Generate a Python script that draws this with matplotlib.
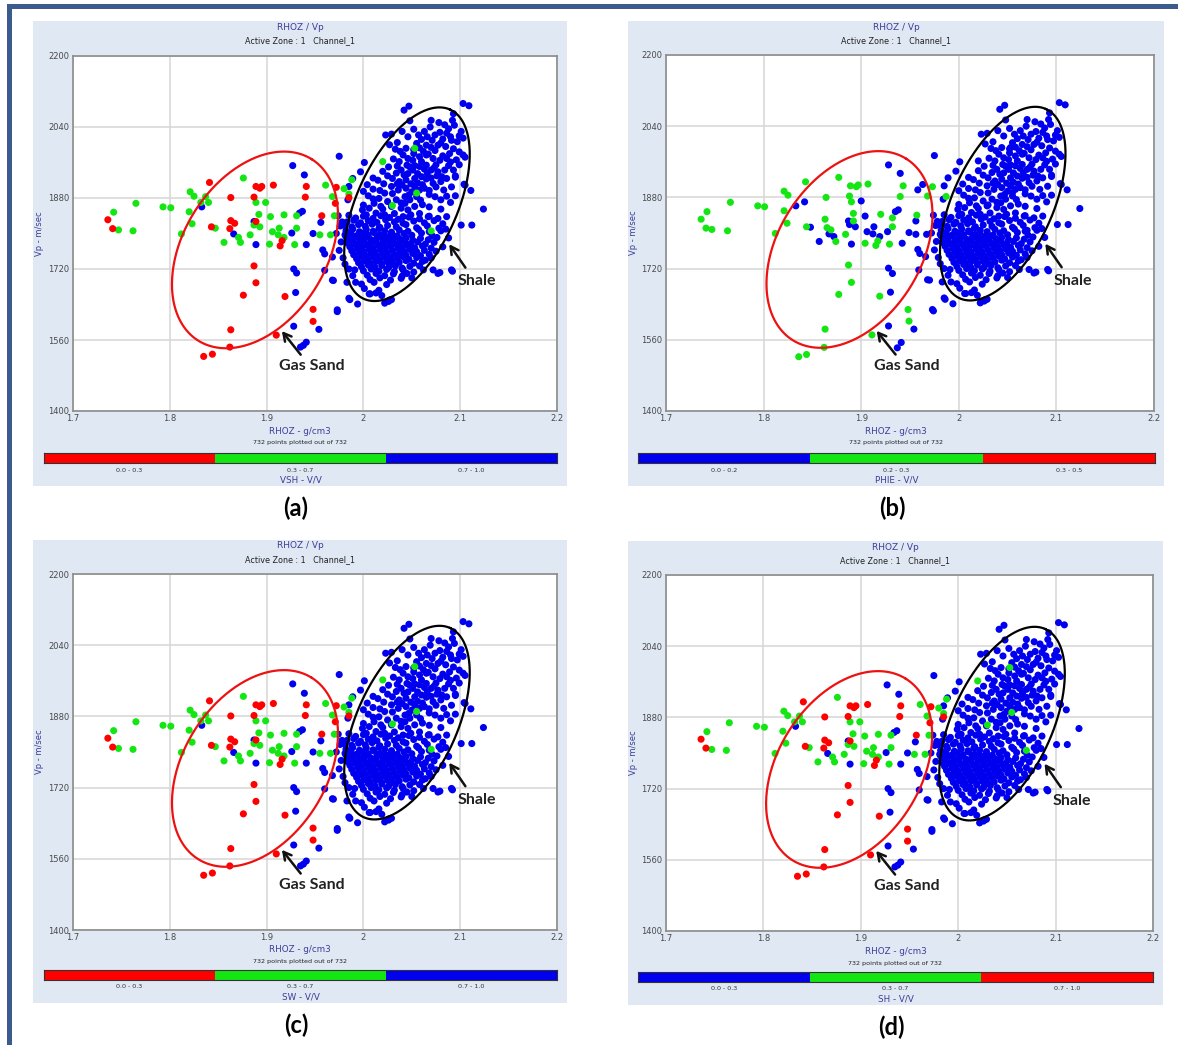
import numpy as np
import matplotlib
matplotlib.use("Agg")
import matplotlib.pyplot as plt
from matplotlib.patches import Rectangle

W, H = 1178, 1045

# ---- values: (RHOZ g/cm3, Vp m/sec) ----

# shale cluster + scattered points, blue in all four cross-plots
shale_pts = [
    # outliers around the cluster
    (1.975, 1974), (1.976, 1817), (1.986, 1651), (1.994, 1641), (1.991, 1718), (1.983, 1690),
    (2.001, 1960), (1.997, 1939), (2.042, 2078), (2.047, 2087), (2.048, 2054), (2.103, 2093),
    (2.109, 2088), (2.093, 2070), (2.124, 1855), (2.111, 1897), (2.101, 1819), (2.092, 1715),
    (2.079, 1712), (2.104, 1911), (2.095, 1927), (2.026, 1647), (2.029, 1651), (2.022, 1643),
    (2.007, 1664), (2.013, 1666), (1.968, 1695), (1.973, 1628), (1.985, 1654), (2.027, 1650),
    (2.077, 1710), (2.091, 1718), (2.072, 1718), (2.112, 1819), (2.105, 1909), (2.103, 1977),
    (1.989, 1924), (1.985, 1906), (1.984, 1876), (1.980, 1819), (1.982, 1793),
    # upper lobe
    (2.023, 2022), (2.029, 2024), (2.046, 2018), (2.084, 2045), (2.088, 2036), (2.094, 2044),
    (2.086, 2026), (2.079, 2028), (2.074, 2022), (2.082, 2013), (2.090, 2018), (2.097, 2007),
    (2.091, 2010), (2.055, 2003), (2.058, 1993), (2.052, 1989), (2.065, 1999), (2.070, 1994),
    (2.074, 1987), (2.077, 1999), (2.080, 2004), (2.085, 1996), (2.093, 1991), (2.099, 1984),
    (2.105, 1972), (2.062, 1985), (2.067, 1979), (2.041, 1977), (2.046, 1969), (2.051, 1965),
    (2.058, 1973), (2.065, 1977), (2.072, 1969), (2.079, 1965), (2.086, 1969), (2.090, 1961),
    (2.096, 1966), (2.082, 1975), (2.037, 1962), (2.045, 1954), (2.039, 1943), (2.034, 1936),
    (2.042, 1932), (2.051, 1943), (2.058, 1951), (2.065, 1954), (2.070, 1943), (2.077, 1939),
    (2.084, 1943), (2.093, 1943), (2.056, 1935), (2.048, 1950), (2.030, 1924), (2.037, 1917),
    (2.044, 1921), (2.053, 1924), (2.060, 1928), (2.065, 1923), (2.072, 1913), (2.080, 1917),
    (2.086, 1924), (2.049, 1912), (2.040, 1909), (2.029, 1906), (2.036, 1898), (2.044, 1902),
    (2.053, 1906), (2.058, 1898), (2.063, 1902), (2.068, 1897), (2.074, 1883), (2.080, 1876),
    (2.086, 1884), (2.050, 1894), (2.022, 1891), (2.016, 1879), (2.025, 1872), (2.034, 1876),
    (2.043, 1883), (2.048, 1876), (2.055, 1883), (2.059, 1875), (2.061, 1865), (2.039, 1869),
    (2.011, 1868), (2.006, 1857), (2.018, 1861), (2.029, 1861), (2.039, 1857), (2.046, 1853),
    (2.053, 1861), (2.000, 1864), (1.999, 1853), (2.003, 1842), (2.013, 1846), (2.022, 1842),
    (2.032, 1845), (2.041, 1838), (2.049, 1842), (2.058, 1845), (2.067, 1838),
    (2.027, 2000), (2.033, 1990), (2.038, 1985), (2.031, 1968), (2.026, 1950), (2.020, 1940),
    (2.015, 1920), (2.021, 1912), (2.010, 1900), (2.017, 1897), (2.005, 1885), (2.010, 1878),
    (2.063, 2030), (2.069, 2040), (2.060, 2012), (2.071, 2010), (2.101, 2030), (2.103, 2015),
    (2.099, 1955), (2.095, 1930), (2.091, 1905), (2.083, 1898), (2.076, 1930), (2.066, 1935),
    (2.061, 1910), (2.046, 1935), (2.035, 1952), (2.052, 1980), (2.044, 1992), (2.060, 1962),
    (2.075, 1955), (2.088, 1953), (2.070, 1925), (2.090, 1870), (2.095, 1885), (2.010, 1925),
    (2.004, 1910), (2.000, 1895),
    (2.035, 2005), (2.040, 2030), (2.052, 2035), (2.057, 2022), (2.066, 2018), (2.078, 2050),
    (2.070, 2055), (2.092, 2055), (2.099, 2020), (2.089, 1980), (2.073, 1948), (2.081, 1928),
    (2.056, 1914), (2.047, 1887), (2.068, 1888), (2.075, 1905), (2.025, 1930), (2.030, 1890),
    (2.043, 1868), (2.068, 1860), (2.080, 1855), (2.020, 1855), (2.035, 1912), (2.063, 1945),
    (2.053, 1953),
    # lower lobe (dense)
    (1.985, 1841), (1.992, 1835), (2.000, 1839), (2.010, 1834), (2.018, 1840), (2.027, 1836),
    (2.036, 1832), (2.047, 1837), (2.058, 1833), (2.068, 1839), (2.077, 1834), (2.086, 1838),
    (1.983, 1826), (1.990, 1830), (1.997, 1824), (2.005, 1829), (2.014, 1825), (2.023, 1831),
    (2.032, 1826), (2.041, 1823), (2.052, 1828), (2.063, 1824), (2.073, 1829), (2.082, 1822),
    (1.980, 1819), (1.988, 1815), (1.995, 1820), (2.002, 1816), (2.009, 1821), (2.017, 1814),
    (2.025, 1818), (2.034, 1815), (2.044, 1820), (2.055, 1813), (2.066, 1817), (2.078, 1812),
    (1.982, 1806), (1.989, 1810), (1.996, 1804), (2.003, 1809), (2.010, 1805), (2.016, 1811),
    (2.022, 1806), (2.029, 1803), (2.037, 1808), (2.046, 1805), (2.057, 1809), (2.068, 1804),
    (2.080, 1806), (1.981, 1797), (1.987, 1801), (1.993, 1795), (1.999, 1800), (2.005, 1796),
    (2.011, 1802), (2.017, 1797), (2.023, 1794), (2.029, 1799), (2.035, 1795), (2.042, 1800),
    (2.050, 1796), (2.060, 1801), (2.071, 1795), (1.984, 1788), (1.990, 1792), (1.996, 1787),
    (2.002, 1791), (2.008, 1786), (2.014, 1790), (2.020, 1785), (2.026, 1789), (2.032, 1792),
    (2.038, 1787), (2.044, 1790), (2.051, 1785), (2.059, 1789), (2.067, 1786), (2.076, 1791),
    (1.983, 1779), (1.989, 1783), (1.995, 1778), (2.001, 1782), (2.007, 1777), (2.013, 1781),
    (2.019, 1776), (2.025, 1780), (2.031, 1784), (2.037, 1778), (2.043, 1782), (2.049, 1777),
    (2.056, 1781), (2.064, 1776), (2.073, 1780), (1.986, 1770), (1.992, 1774), (1.998, 1769),
    (2.004, 1773), (2.010, 1768), (2.016, 1772), (2.022, 1767), (2.028, 1771), (2.034, 1775),
    (2.040, 1769), (2.046, 1773), (2.053, 1768), (2.061, 1772), (2.070, 1767), (1.988, 1761),
    (1.994, 1765), (2.000, 1760), (2.006, 1764), (2.012, 1759), (2.018, 1763), (2.024, 1758),
    (2.030, 1762), (2.036, 1766), (2.042, 1760), (2.048, 1764), (2.055, 1759), (2.063, 1762),
    (1.990, 1752), (1.996, 1756), (2.002, 1751), (2.008, 1755), (2.014, 1750), (2.020, 1754),
    (2.026, 1749), (2.032, 1753), (2.038, 1757), (2.044, 1751), (2.051, 1755), (2.059, 1750),
    (2.068, 1753), (1.993, 1743), (1.999, 1747), (2.005, 1742), (2.011, 1746), (2.017, 1741),
    (2.023, 1745), (2.029, 1740), (2.035, 1744), (2.041, 1748), (2.047, 1742), (2.055, 1746),
    (1.995, 1734), (2.001, 1738), (2.007, 1733), (2.013, 1737), (2.019, 1732), (2.025, 1736),
    (2.031, 1731), (2.037, 1735), (2.044, 1739), (2.052, 1733), (2.061, 1737), (1.998, 1725),
    (2.005, 1729), (2.012, 1724), (2.019, 1728), (2.026, 1723), (2.033, 1727), (2.040, 1722),
    (2.048, 1726), (2.000, 1716), (2.008, 1720), (2.016, 1715), (2.024, 1719), (2.032, 1714),
    (2.041, 1718), (2.052, 1713), (2.004, 1706), (2.013, 1710), (2.022, 1705), (2.031, 1709),
    (2.040, 1704), (2.007, 1696), (2.017, 1700), (2.028, 1695), (2.039, 1699), (1.998, 1686),
    (2.011, 1690), (2.024, 1685), (2.001, 1676), (2.016, 1672), (2.006, 1664), (2.019, 1660),
    (1.974, 1840), (1.978, 1826), (1.972, 1800), (1.977, 1781), (1.975, 1762), (1.979, 1745),
    (1.981, 1731), (1.985, 1720), (1.989, 1705), (1.992, 1690), (2.075, 1760), (2.082, 1770),
    (2.088, 1790), (2.085, 1810), (2.070, 1745), (2.064, 1740), (2.058, 1727), (2.062, 1718),
    (2.045, 1710), (2.050, 1700),
]

# sand side, coloured by VSH classes (same colouring in the SW and SH plots)
vsh_blue = [
    (1.833, 1860), (1.866, 1799), (1.887, 1827), (1.889, 1775), (1.927, 1953), (1.939, 1932),
    (1.934, 1846), (1.937, 1850), (1.926, 1801), (1.941, 1775), (1.956, 1825), (1.948, 1800),
    (1.958, 1763), (1.960, 1754), (1.968, 1747), (1.960, 1717), (1.928, 1720), (1.931, 1711),
    (1.930, 1667), (1.969, 1694), (1.928, 1591), (1.954, 1584), (1.941, 1555), (1.935, 1544),
    (1.938, 1548), (1.973, 1624),
]
vsh_green = [
    (1.742, 1848), (1.747, 1808), (1.762, 1806), (1.765, 1868), (1.793, 1860), (1.801, 1858),
    (1.812, 1799), (1.821, 1894), (1.825, 1884), (1.820, 1849), (1.823, 1822), (1.832, 1870),
    (1.837, 1883), (1.840, 1870), (1.847, 1812), (1.856, 1780), (1.871, 1791), (1.873, 1780),
    (1.876, 1925), (1.883, 1797), (1.889, 1870), (1.892, 1843), (1.893, 1815), (1.887, 1819),
    (1.899, 1870), (1.903, 1776), (1.904, 1838), (1.906, 1804), (1.912, 1797), (1.913, 1812),
    (1.918, 1842), (1.918, 1791), (1.929, 1775), (1.931, 1812), (1.931, 1840), (1.955, 1797),
    (1.961, 1909), (1.966, 1797), (1.968, 1883), (1.970, 1840), (1.980, 1901), (1.985, 1889),
    (1.988, 1921), (2.020, 1962), (2.053, 1992), (2.030, 1863), (2.070, 1806), (2.055, 1891),
]
vsh_red = [
    (1.736, 1831), (1.741, 1811), (1.841, 1915), (1.843, 1815), (1.863, 1881), (1.863, 1829),
    (1.867, 1823), (1.862, 1811), (1.887, 1882), (1.889, 1906), (1.895, 1906), (1.893, 1902),
    (1.907, 1909), (1.889, 1827), (1.941, 1906), (1.940, 1882), (1.957, 1840), (1.972, 1904),
    (1.971, 1868), (1.985, 1881), (1.916, 1784), (1.914, 1772), (1.887, 1727), (1.889, 1689),
    (1.876, 1661), (1.919, 1658), (1.948, 1629), (1.948, 1602), (1.863, 1583), (1.910, 1571),
    (1.862, 1544), (1.835, 1523), (1.844, 1528),
]

# sand side, coloured by PHIE classes
phie_blue = [
    (1.842, 1870), (1.833, 1861), (1.900, 1872), (1.904, 1838), (1.887, 1827), (1.888, 1819),
    (1.894, 1814), (1.848, 1813), (1.857, 1781), (1.867, 1798), (1.872, 1792), (1.890, 1775),
    (1.906, 1803), (1.913, 1814), (1.912, 1798), (1.919, 1792), (1.927, 1803), (1.935, 1848),
    (1.938, 1852), (1.949, 1801), (1.956, 1797), (1.956, 1827), (1.958, 1897), (1.963, 1909),
    (1.967, 1797), (1.928, 1953), (1.940, 1934), (1.942, 1777), (1.958, 1763), (1.960, 1754),
    (1.966, 1747), (1.959, 1717), (1.970, 1694), (1.928, 1721), (1.932, 1709), (1.930, 1667),
    (1.974, 1625), (1.928, 1591), (1.954, 1584), (1.937, 1542), (1.941, 1554), (1.978, 1818),
    (2.020, 1962), (2.053, 1992), (2.030, 1863), (2.070, 1806), (2.055, 1891),
]
phie_green = [
    (1.766, 1869), (1.763, 1805), (1.794, 1861), (1.801, 1859), (1.821, 1894), (1.825, 1885),
    (1.843, 1915), (1.864, 1880), (1.821, 1850), (1.824, 1822), (1.812, 1799), (1.844, 1814),
    (1.877, 1925), (1.889, 1906), (1.895, 1904), (1.897, 1908), (1.907, 1910), (1.888, 1883),
    (1.890, 1870), (1.892, 1844), (1.863, 1831), (1.865, 1812), (1.869, 1807), (1.884, 1797),
    (1.874, 1781), (1.904, 1777), (1.915, 1772), (1.917, 1782), (1.920, 1842), (1.932, 1834),
    (1.929, 1775), (1.892, 1827), (1.943, 1906), (1.940, 1882), (1.957, 1840), (1.968, 1883),
    (1.973, 1904), (1.987, 1882), (1.932, 1814), (1.887, 1728), (1.890, 1689), (1.877, 1662),
    (1.919, 1658), (1.948, 1628), (1.949, 1602), (1.863, 1584), (1.911, 1571), (1.862, 1543),
    (1.836, 1522), (1.844, 1527), (1.742, 1848), (1.747, 1808), (1.736, 1831), (1.741, 1811),
]

x_ticks = [1.7, 1.8, 1.9, 2.0, 2.1, 2.2]
x_ticklabels = ['1.7', '1.8', '1.9', '2', '2.1', '2.2']
y_ticks = [1400, 1560, 1720, 1880, 2040, 2200]

RED, GREEN, BLUE = '#ff0000', '#14e614', '#0000ee'

panels = [
    dict(tag='(a)', bg=(33, 21, 567, 486), ax=(73, 56, 557, 411), bar=(44, 453, 557, 463),
         name='VSH - V/V', bins=['0.0 - 0.3', '0.3 - 0.7', '0.7 - 1.0'], cols=[RED, GREEN, BLUE],
         pts=[(vsh_blue, BLUE), (vsh_green, GREEN), (vsh_red, RED)]),
    dict(tag='(b)', bg=(628, 21, 1164, 486), ax=(666, 55, 1154, 411), bar=(638, 453, 1155, 463),
         name='PHIE - V/V', bins=['0.0 - 0.2', '0.2 - 0.3', '0.3 - 0.5'], cols=[BLUE, GREEN, RED],
         pts=[(phie_blue, BLUE), (phie_green, GREEN)]),
    dict(tag='(c)', bg=(33, 540, 567, 1003), ax=(73, 574, 557, 930), bar=(44, 970, 557, 980),
         name='SW - V/V', bins=['0.0 - 0.3', '0.3 - 0.7', '0.7 - 1.0'], cols=[RED, GREEN, BLUE],
         pts=[(vsh_blue, BLUE), (vsh_green, GREEN), (vsh_red, RED)]),
    dict(tag='(d)', bg=(628, 541, 1163, 1005), ax=(666, 575, 1153, 931), bar=(638, 972, 1153, 982),
         name='SH - V/V', bins=['0.0 - 0.3', '0.3 - 0.7', '0.7 - 1.0'], cols=[BLUE, GREEN, RED],
         pts=[(vsh_blue, BLUE), (vsh_green, GREEN), (vsh_red, RED)]),
]


def rect(x0, y0, x1, y1):
    return [x0 / W, 1 - y1 / H, (x1 - x0) / W, (y1 - y0) / H]


def ellipse(ax, cx, cy, a, b, ang, color, wpx, hpx):
    # outline drawn in pixel units, converted to data units
    t = np.linspace(0, 2 * np.pi, 300)
    th = np.radians(ang)
    ex = a * np.cos(t) * np.cos(th) - b * np.sin(t) * np.sin(th)
    ey = a * np.cos(t) * np.sin(th) + b * np.sin(t) * np.cos(th)
    ax.plot(cx + ex * 0.5 / wpx, cy + ey * 800 / hpx, color=color, lw=1.6, zorder=5)


fig = plt.figure(figsize=(W / 100, H / 100), dpi=100)
fig.patch.set_facecolor('white')

# dark frame on the left and top
fig.add_artist(Rectangle((7 / W, 0), 5 / W, 1 - 4 / H, transform=fig.transFigure, color='#3b5b8c', lw=0))
fig.add_artist(Rectangle((7 / W, 1 - 9 / H), 1 - 7 / W, 5 / H, transform=fig.transFigure, color='#3b5b8c', lw=0))

title_col = '#3d3d99'
MS = 26
for p in panels:
    bx0, by0, bx1, by1 = p['bg']
    fig.add_artist(Rectangle((bx0 / W, 1 - by1 / H), (bx1 - bx0) / W, (by1 - by0) / H,
                             transform=fig.transFigure, color='#dfe8f3', lw=0, zorder=0))
    cxp = (bx0 + bx1) / 2
    fig.text(cxp / W, 1 - (by0 + 6) / H, 'RHOZ / Vp', ha='center', va='center', fontsize=6.5, color=title_col)
    fig.text(cxp / W, 1 - (by0 + 20) / H, 'Active Zone : 1   Channel_1', ha='center', va='center',
             fontsize=5.8, color='#222222')

    ax0, ay0, ax1, ay1 = p['ax']
    ax = fig.add_axes(rect(ax0, ay0, ax1, ay1))
    ax.set_xlim(1.7, 2.2)
    ax.set_ylim(1400, 2200)
    ax.set_xticks(x_ticks)
    ax.set_xticklabels(x_ticklabels)
    ax.set_yticks(y_ticks)
    ax.tick_params(length=0, labelsize=6, labelcolor='#4a4a4a', pad=2.5)
    ax.grid(color='#d6d6d6', lw=1.1)
    ax.set_axisbelow(True)
    for s in ax.spines.values():
        s.set_color('#8c8c8c')
        s.set_linewidth(1.2)

    ax.scatter([q[0] for q in shale_pts], [q[1] for q in shale_pts], s=MS, c=BLUE,
               edgecolors='none', zorder=3)
    for lst, col in p['pts']:
        ax.scatter([q[0] for q in lst], [q[1] for q in lst], s=MS, c=col, edgecolors='none', zorder=4)

    wpx, hpx = ax1 - ax0, ay1 - ay0
    ellipse(ax, 1.888, 1763, 107, 71.5, 58, '#ee1111', wpx, hpx)
    ellipse(ax, 2.045, 1866, 104, 50, 65.4, 'black', wpx, hpx)

    arrow = dict(arrowstyle='->,head_length=0.55,head_width=0.3', lw=1.8, color='#111111')
    ax.annotate('', xy=(1.914, 1585), xytext=(1.937, 1522), arrowprops=arrow, zorder=6)
    ax.annotate('', xy=(2.087, 1781), xytext=(2.107, 1718), arrowprops=arrow, zorder=6)
    ax.text(1.947, 1501, 'Gas Sand', ha='center', va='center', fontsize=11.5, fontweight='bold',
            family=['Lato', 'DejaVu Sans'], color='#222222', zorder=6)
    ax.text(2.117, 1693, 'Shale', ha='center', va='center', fontsize=11.5, fontweight='bold',
            family=['Lato', 'DejaVu Sans'], color='#222222', zorder=6)

    fig.text((ax0 - 33) / W, 1 - ((ay0 + ay1) / 2) / H, 'Vp - m/sec', rotation=90, ha='center',
             va='center', fontsize=6, color=title_col)
    fig.text(cxp / W, 1 - (ay1 + 20) / H, 'RHOZ - g/cm3', ha='center', va='center', fontsize=6.3,
             color=title_col)
    fig.text(cxp / W, 1 - (ay1 + 32) / H, '732 points plotted out of 732', ha='center', va='center',
             fontsize=4.6, color='#222222')

    cx0, cy0, cx1, cy1 = p['bar']
    cax = fig.add_axes(rect(cx0, cy0, cx1, cy1))
    cax.barh(0, [1, 1, 1], left=[0, 1, 2], height=1, color=p['cols'], edgecolor='none')
    cax.set_xlim(0, 3)
    cax.set_ylim(-0.5, 0.5)
    cax.set_xticks([])
    cax.set_yticks([])
    for s in cax.spines.values():
        s.set_color('#333333')
        s.set_linewidth(0.8)
    seg = (cx1 - cx0) / 3
    for i, lab in enumerate(p['bins']):
        fig.text((cx0 + seg * (i + 0.5)) / W, 1 - (cy1 + 7) / H, lab, ha='center', va='center',
                 fontsize=4.6, color='#333333')
    fig.text(((cx0 + cx1) / 2) / W, 1 - (cy1 + 17) / H, p['name'], ha='center', va='center',
             fontsize=6.3, color=title_col)

    fig.text(((bx0 + bx1) / 2 - 4) / W, 1 - (by1 + 22) / H, p['tag'], ha='center', va='center',
             fontsize=17, fontweight='bold', family=['Lato', 'DejaVu Sans'], color='black')

fig.savefig('out.png', dpi=100)
